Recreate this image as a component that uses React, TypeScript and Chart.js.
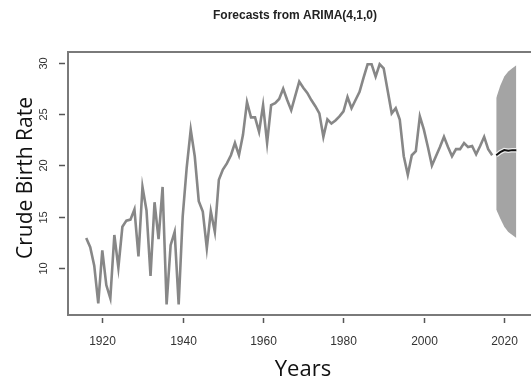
import React, { useEffect, useRef } from "react";
import { Chart, registerables } from "chart.js";

Chart.register(...registerables);

const TITLE = "Forecasts from ARIMA(4,1,0)";
const X_TITLE = "Years";
const Y_TITLE = "Crude Birth Rate";

const HIST_START = 1916;
const histValues = [
  12.9, 12.0, 10.2, 6.5, 11.7, 8.3, 7.0, 13.2, 10.0, 14.0, // 1916-1925
  14.6, 14.7, 15.7, 11.1, 17.9, 15.6, 9.2, 16.4, 12.8, 17.9, // 1926-1935
  6.4, 12.2, 13.5, 6.4, 15.0, 19.8, 23.5, 20.9, 16.5, 15.5, // 1936-1945
  11.9, 15.5, 13.5, 18.6, 19.6, 20.2, 21.0, 22.2, 21.0, 23.0, // 1946-1955
  26.2, 24.7, 24.7, 23.3, 25.9, 22.2, 25.9, 26.1, 26.5, 27.5, // 1956-1965
  26.4, 25.4, 26.8, 28.2, 27.6, 27.1, 26.4, 25.8, 25.1, 22.8, // 1966-1975
  24.5, 24.1, 24.4, 24.8, 25.3, 26.7, 25.6, 26.4, 27.2, 28.6, // 1976-1985
  29.9, 29.9, 28.7, 29.9, 29.5, 27.3, 25.1, 25.6, 24.5, 20.9, // 1986-1995
  19.1, 21.0, 21.4, 24.8, 23.5, 21.8, 20.0, 20.9, 21.8, 22.8, // 1996-2005
  21.8, 20.9, 21.6, 21.6, 22.2, 21.8, 21.9, 21.1, 21.9, 22.8, // 2006-2015
  21.6, 21.0, // 2016-2017
];

const fcYears = [2018, 2019, 2020, 2021, 2022, 2023];
const fcMean = [21.0, 21.3, 21.5, 21.45, 21.5, 21.5];
const fcUpper = [26.6, 27.8, 28.7, 29.2, 29.5, 29.8];
const fcLower = [15.7, 14.8, 14.0, 13.5, 13.2, 12.9];

const xTicks = [1920, 1940, 1960, 1980, 2000, 2020];
const yTicks = [10, 15, 20, 25, 30];

const decorPlugin = {
  id: "decor",
  afterDraw(chart: any) {
    const { ctx, chartArea: a, scales } = chart;
    const xs = scales.x;
    const ys = scales.y;
    ctx.save();
    // box
    ctx.strokeStyle = "#7a7a7a";
    ctx.lineWidth = 2;
    ctx.strokeRect(a.left, a.top, a.right - a.left + 10, a.bottom - a.top);

    // x ticks
    ctx.strokeStyle = "#555";
    ctx.lineWidth = 1.5;
    ctx.fillStyle = "#333";
    ctx.font = "12px 'Liberation Sans', Arial, sans-serif";
    ctx.textAlign = "center";
    ctx.textBaseline = "middle";
    for (const t of xTicks) {
      const px = Math.round(xs.getPixelForValue(t)) + 0.5;
      ctx.beginPath();
      ctx.moveTo(px, a.bottom + 3);
      ctx.lineTo(px, a.bottom + 8);
      ctx.stroke();
      ctx.fillText(String(t), px, a.bottom + 27);
    }

    // y ticks
    ctx.font = "11px 'Liberation Sans', Arial, sans-serif";
    for (const t of yTicks) {
      const py = Math.round(ys.getPixelForValue(t)) + 0.5;
      ctx.beginPath();
      ctx.moveTo(a.left - 9, py);
      ctx.lineTo(a.left - 3, py);
      ctx.stroke();
      ctx.save();
      ctx.translate(a.left - 24, py);
      ctx.rotate(-Math.PI / 2);
      ctx.fillText(String(t), 0, 0);
      ctx.restore();
    }

    // title
    ctx.fillStyle = "#222";
    ctx.font = "bold 12px 'Liberation Sans', Arial, sans-serif";
    ctx.fillText(TITLE, 295, 16);

    // axis titles
    ctx.fillStyle = "#111";
    ctx.font = "22px 'Open Sans', sans-serif";
    ctx.textBaseline = "alphabetic";
    ctx.fillText(X_TITLE, 303, 376);

    ctx.save();
    ctx.translate(32, 178);
    ctx.rotate(-Math.PI / 2);
    ctx.font = "21px 'Open Sans', sans-serif";
    ctx.fillText(Y_TITLE, 0, 0);
    ctx.restore();

    ctx.restore();
  },
};

export default function App() {
  const ref = useRef<HTMLCanvasElement | null>(null);

  useEffect(() => {
    const canvas = ref.current;
    if (!canvas) return;
    const hist = histValues.map((v, i) => ({ x: HIST_START + i, y: v }));
    const upper = fcYears.map((x, i) => ({ x, y: fcUpper[i] }));
    const lower = fcYears.map((x, i) => ({ x, y: fcLower[i] }));
    const mean = fcYears.map((x, i) => ({ x, y: fcMean[i] }));

    const chart = new Chart(canvas, {
      type: "line",
      data: {
        datasets: [
          {
            data: hist,
            borderColor: "#878787",
            borderWidth: 2.6,
            pointRadius: 0,
            fill: false,
            tension: 0,
            order: 1,
          },
          {
            data: upper,
            borderWidth: 0,
            borderColor: "rgba(0,0,0,0)",
            backgroundColor: "#a4a4a4",
            pointRadius: 0,
            fill: "+1",
            order: 3,
          },
          {
            data: lower,
            borderWidth: 0,
            borderColor: "rgba(0,0,0,0)",
            pointRadius: 0,
            fill: false,
            order: 3,
          },
          {
            data: mean,
            borderColor: "rgba(255,255,255,0.8)",
            borderWidth: 4.5,
            pointRadius: 0,
            fill: false,
            order: 2,
          },
          {
            data: mean,
            borderColor: "#111",
            borderWidth: 2,
            pointRadius: 0,
            fill: false,
            order: 0,
          },
        ],
      },
      options: {
        responsive: false,
        animation: false,
        devicePixelRatio: 1,
        layout: { padding: { left: 68, top: 52, right: 0, bottom: 65 } },
        plugins: {
          legend: { display: false },
          tooltip: { enabled: false },
          title: { display: false },
        },
        scales: {
          x: { type: "linear", min: 1911.47, max: 2026.65, display: false },
          y: { type: "linear", min: 5.37, max: 31.1, display: false },
        },
      },
      plugins: [decorPlugin],
    });
    return () => chart.destroy();
  }, []);

  return (
    <div style={{ position: "fixed", left: 0, top: 0, width: 531, height: 380, background: "#fff" }}>
      <canvas ref={ref} width={531} height={380} style={{ width: 531, height: 380, display: "block" }} />
    </div>
  );
}
